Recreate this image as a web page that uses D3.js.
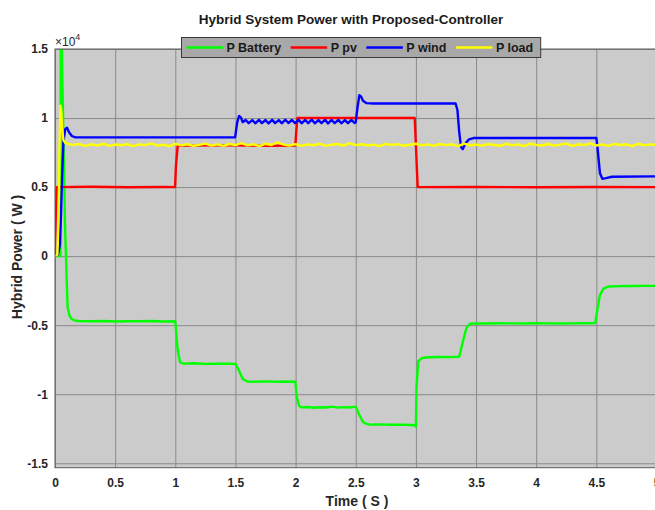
<!DOCTYPE html>
<html>
<head>
<meta charset="utf-8">
<script src="https://cdn.jsdelivr.net/npm/d3@7"></script>
<style>
  html, body { margin: 0; padding: 0; background: #ffffff; }
  svg { display: block; font-family: "Liberation Sans", Arial, sans-serif; }
</style>
</head>
<body>
<svg id="chart" width="655" height="510"></svg>
<script>
// ---- Data (time in s, power in W) ----
const xTicks = [0, 0.5, 1, 1.5, 2, 2.5, 3, 3.5, 4, 4.5, 5];
const yTicks = [-15000, -10000, -5000, 0, 5000, 10000, 15000];
const seriesNames = ["P Battery", "P pv", "P wind", "P load"];
const seriesColors = ["#00ff00", "#ff0000", "#0000ff", "#ffff00"];

const batteryTime = [0, 0.045, 0.05, 0.056, 0.083, 0.097, 0.105, 0.12, 0.138, 0.17, 0.2,
  0.3, 0.4, 0.5, 0.6, 0.7, 0.8, 0.9, 0.995,
  1.0, 1.02, 1.04, 1.07, 1.15, 1.25, 1.35, 1.45, 1.5, 1.53, 1.56, 1.6, 1.65,
  1.75, 1.85, 1.95, 1.998, 2.01, 2.03, 2.05, 2.1, 2.15, 2.2, 2.25, 2.3, 2.35, 2.4, 2.45, 2.5,
  2.53, 2.56, 2.59, 2.62, 2.7, 2.8, 2.9, 2.99, 3.0, 3.005, 3.02, 3.05, 3.1, 3.2, 3.3, 3.36,
  3.39, 3.42, 3.45, 3.5, 3.6, 3.7, 3.8, 3.9, 4.0, 4.1, 4.2, 4.3, 4.4, 4.49,
  4.51, 4.53, 4.56, 4.6, 4.7, 4.8, 4.9, 5.0];
const battery = [0, 0, 26000, 15200, 2400, -1700, -3700, -4300, -4550, -4680, -4700,
  -4720, -4700, -4730, -4710, -4720, -4700, -4730, -4720,
  -4750, -6800, -7700, -7780, -7760, -7800, -7790, -7780, -7800, -8300, -8900, -9080, -9100,
  -9070, -9100, -9080, -9100, -10200, -10850, -10950, -10920, -10980, -10940, -10960, -10900, -10970, -10930, -10960, -10900,
  -11500, -12000, -12150, -12200, -12180, -12210, -12200, -12250, -12350, -9500, -7600, -7380, -7320, -7300, -7310, -7280,
  -6200, -5200, -4900, -4870, -4880, -4860, -4870, -4880, -4860, -4870, -4880, -4870, -4860, -4850,
  -3800, -2800, -2350, -2200, -2170, -2160, -2150, -2150];

const pvTime = [0, 0.005, 0.015, 0.3, 0.6, 0.9, 0.998, 1.005, 1.02, 1.4, 1.8, 1.998, 2.005, 2.015,
  2.5, 2.99, 3.0, 3.015, 3.5, 4.0, 4.5, 5.0];
const pv = [0, 2500, 5000, 5020, 4990, 5010, 5000, 6500, 8000, 8020, 7990, 8000, 9000, 10000,
  10000, 10000, 8000, 5000, 5010, 4990, 5010, 5000];

const windTime = [0, 0.025, 0.04, 0.05, 0.06, 0.07, 0.085, 0.1, 0.115, 0.14, 0.17, 0.6, 1.0, 1.497,
  1.515, 1.53, 1.545, 1.56,
  1.585, 1.61, 1.64, 1.665, 1.695, 1.72, 1.75, 1.775, 1.805, 1.83, 1.86, 1.885, 1.915, 1.94,
  1.97, 1.995, 2.025, 2.05, 2.08, 2.105, 2.135, 2.16, 2.19, 2.215, 2.245, 2.27, 2.30, 2.325,
  2.355, 2.38, 2.41, 2.435, 2.465, 2.49, 2.5,
  2.515, 2.53, 2.545, 2.56, 2.59, 2.65, 3.0, 3.33, 3.345, 3.36, 3.375, 3.39, 3.41, 3.44, 3.48,
  4.0, 4.5, 4.51, 4.53, 4.55, 4.58, 4.63, 5.0];
const wind = [0, 100, 800, 3000, 6000, 8300, 9200, 9300, 9000, 8700, 8600, 8600, 8600, 8600,
  9700, 10150, 10050, 9700,
  9860, 9630, 9850, 9620, 9870, 9630, 9860, 9610, 9870, 9630, 9850, 9620, 9880, 9640,
  9860, 9630, 9870, 9620, 9860, 9630, 9880, 9620, 9850, 9630, 9870, 9610, 9860, 9630,
  9870, 9620, 9850, 9630, 9860, 9640, 9700,
  10800, 11650, 11550, 11250, 11080, 11050, 11050, 11050, 10600, 9000, 7900, 7750, 8150, 8450, 8550,
  8560, 8560, 7800, 6000, 5600, 5650, 5750, 5780];

// Start-up transient of the load, then samples every 0.05 s from 0.1 s to 5 s
const loadStartTime = [0, 0.02, 0.03, 0.038, 0.045, 0.052, 0.06, 0.07, 0.085];
const loadStart = [0, 100, 3000, 8000, 10900, 10500, 9200, 8400, 8200];
const loadSampleStep = 0.05;
const loadSamples = [
  8150, 8050, 8120, 7980, 8100, 8010, 8140, 7990, 8080, 8030,
  8110, 7970, 8090, 8040, 8160, 8000, 8070, 7960, 8130, 8020,
  8100, 7990, 8060, 8150, 8010, 8090, 7980, 8120, 8040, 8180,
  8020, 8100, 7970, 8140, 8050, 8230, 8080, 8010, 8110, 7990,
  8090, 8030, 8150, 7980, 8070, 8120, 8000, 8190, 8040, 8100,
  8010, 8080, 7970, 8130, 8050, 8110, 7990, 8070, 8140, 8020,
  8090, 7980, 8120, 8040, 8100, 7960, 8150, 8030, 8080, 8000,
  8110, 8050, 7990, 8130, 8020, 8090, 7970, 8140, 8060, 8010,
  8120, 8000, 8080, 8150, 7980, 8100, 8040, 8170, 8010, 8090,
  7990, 8130, 8050, 8100, 7970, 8140, 8030, 8090, 8060];

// ---- Build series tables ----
const zip = (ts, vs) => ts.map((t, i) => ({ t, v: vs[i] }));
const loadData = zip(loadStartTime, loadStart)
  .concat(loadSamples.map((v, i) => ({ t: +(0.1 + i * loadSampleStep).toFixed(3), v })));
const series = [
  zip(batteryTime, battery),
  zip(pvTime, pv),
  zip(windTime, wind),
  loadData
];

// ---- Layout ----
const svg = d3.select("#chart");
const plot = { left: 55, right: 656.5, top: 49, bottom: 467.7 };

const x = d3.scaleLinear().domain([0, 5]).range([plot.left, plot.right]);
const y = d3.scaleLinear().domain([-15320, 15000]).range([plot.bottom, plot.top]);

// Plot background
svg.append("rect")
  .attr("x", plot.left).attr("y", plot.top)
  .attr("width", plot.right - plot.left).attr("height", plot.bottom - plot.top)
  .attr("fill", "#cbcbcb");

// Grid + tick labels via D3 axes
const fmtY = d => String(d / 1e4);
const xAxis = svg.append("g")
  .attr("transform", `translate(0,${plot.bottom})`)
  .call(d3.axisBottom(x).tickValues(xTicks).tickFormat(d => String(d))
    .tickSize(-(plot.bottom - plot.top)).tickPadding(10.5));
const yAxis = svg.append("g")
  .attr("transform", `translate(${plot.left},0)`)
  .call(d3.axisLeft(y).tickValues(yTicks).tickFormat(fmtY)
    .tickSize(-(plot.right - plot.left)).tickPadding(7));

[xAxis, yAxis].forEach(g => {
  g.select(".domain").remove();
  g.selectAll(".tick line").attr("stroke", "#8a8a8a").attr("stroke-width", 1);
  g.selectAll(".tick text")
    .attr("fill", "#262626")
    .style("font-size", "12px").style("font-weight", "bold")
    .style("font-family", "'Liberation Sans', Arial, sans-serif");
});

// Clip for data lines
svg.append("clipPath").attr("id", "plotClip")
  .append("rect")
  .attr("x", plot.left).attr("y", plot.top)
  .attr("width", plot.right - plot.left).attr("height", plot.bottom - plot.top);

const line = d3.line().x(d => x(d.t)).y(d => y(d.v));
svg.append("g").attr("clip-path", "url(#plotClip)")
  .selectAll("path").data(series).join("path")
  .attr("d", line)
  .attr("fill", "none")
  .attr("stroke", (d, i) => seriesColors[i])
  .attr("stroke-width", 2.4)
  .attr("stroke-linejoin", "round");

// Axes box
svg.append("rect")
  .attr("x", plot.left).attr("y", plot.top)
  .attr("width", plot.right - plot.left).attr("height", plot.bottom - plot.top)
  .attr("fill", "none").attr("stroke", "#5a5a5a").attr("stroke-width", 1);

// Exponent label
const expo = svg.append("text")
  .attr("x", plot.left).attr("y", 45.5)
  .attr("fill", "#262626")
  .style("font-size", "12px");
expo.append("tspan").text("\u00d710");
expo.append("tspan").attr("dy", -6).style("font-size", "9px").text("4");

// Title
svg.append("text")
  .attr("x", 351).attr("y", 23.5)
  .attr("text-anchor", "middle")
  .attr("fill", "#1a1a1a")
  .style("font-size", "13.5px").style("font-weight", "bold")
  .text("Hybrid System Power with Proposed-Controller");

// Axis titles
svg.append("text")
  .attr("x", 357).attr("y", 506)
  .attr("text-anchor", "middle")
  .attr("fill", "#262626")
  .style("font-size", "14px").style("font-weight", "bold")
  .text("Time ( S )");

svg.append("text")
  .attr("transform", `translate(21.5,257) rotate(-90)`)
  .attr("text-anchor", "middle")
  .attr("fill", "#262626")
  .style("font-size", "14px").style("font-weight", "bold")
  .text("Hybrid Power ( W )");

// Legend
const legend = svg.append("g");
const legendBox = legend.append("rect")
  .attr("x", 181.5).attr("y", 37.5).attr("height", 20)
  .attr("fill", "#a8a8a8").attr("stroke", "#3a3a3a").attr("stroke-width", 1);
let lx = 186.5;
seriesNames.forEach((name, i) => {
  legend.append("line")
    .attr("x1", lx).attr("x2", lx + 36.5)
    .attr("y1", 47.5).attr("y2", 47.5)
    .attr("stroke", seriesColors[i]).attr("stroke-width", 2.4);
  const t = legend.append("text")
    .attr("x", lx + 40).attr("y", 52)
    .attr("fill", "#1a1a1a")
    .style("font-size", "12.5px").style("font-weight", "bold")
    .text(name);
  lx += 40 + t.node().getComputedTextLength() + 9.5;
});
legendBox.attr("width", lx - 181.5 - 2);
</script>
</body>
</html>
